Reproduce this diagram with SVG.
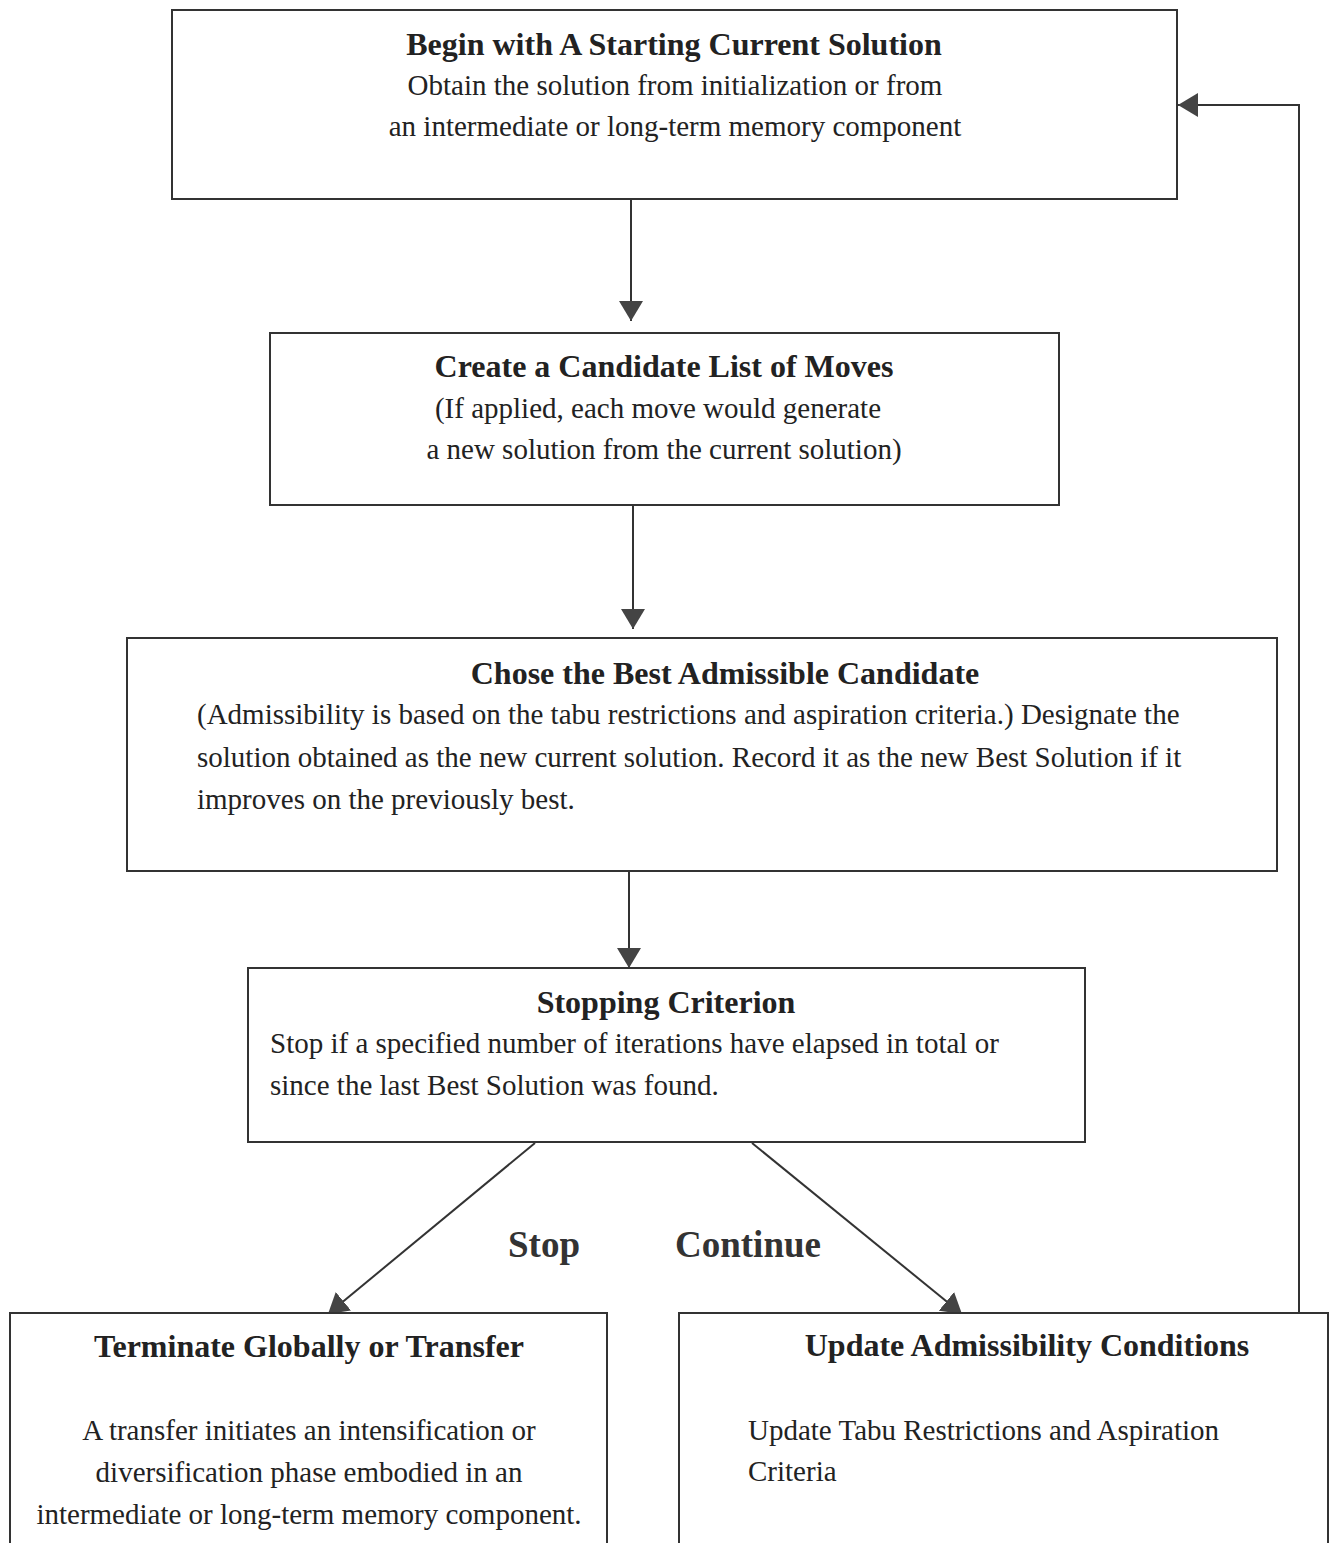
<svg xmlns="http://www.w3.org/2000/svg" width="1333" height="1543" viewBox="0 0 1333 1543">
<defs>
<marker id="ah" viewBox="0 0 20 24" refX="20" refY="12" markerWidth="20" markerHeight="24" markerUnits="userSpaceOnUse" orient="auto">
<path d="M0,0 L20,12 L0,24 Z" fill="#444"/>
</marker>
<style>
.box{fill:#fff;stroke:#333;stroke-width:2}
.ln{fill:none;stroke:#333;stroke-width:2}
.t{font-family:"Liberation Serif","Times New Roman",serif;font-weight:bold;font-size:32px;fill:#222}
.b{font-family:"Liberation Serif","Times New Roman",serif;font-size:29px;fill:#222}
.lab{font-family:"Liberation Serif","Times New Roman",serif;font-weight:bold;font-size:37px;fill:#333}
.c{text-anchor:middle}
</style>
</defs>
<rect width="1333" height="1543" fill="#fff"/>
<g id="connectors">
<line class="ln" x1="631" y1="199" x2="631" y2="321" marker-end="url(#ah)"/>
<line class="ln" x1="633" y1="505" x2="633" y2="629" marker-end="url(#ah)"/>
<line class="ln" x1="629" y1="871" x2="629" y2="968" marker-end="url(#ah)"/>
<line class="ln" x1="535" y1="1143" x2="328" y2="1314" marker-end="url(#ah)"/>
<line class="ln" x1="752" y1="1143" x2="962" y2="1314" marker-end="url(#ah)"/>
<polyline class="ln" points="1299,1313 1299,105 1178,105" marker-end="url(#ah)"/>
</g>
<g id="n1">
<rect class="box" x="172" y="10" width="1005" height="189"/>
<text class="t c" x="674" y="55">Begin with A Starting Current Solution</text>
<text class="b c" x="675" y="95">Obtain the solution from initialization or from</text>
<text class="b c" x="675" y="136">an intermediate or long-term memory component</text>
</g>
<g id="n2">
<rect class="box" x="270" y="333" width="789" height="172"/>
<text class="t c" x="664" y="377">Create a Candidate List of Moves</text>
<text class="b c" x="658" y="418">(If applied, each move would generate</text>
<text class="b c" x="664" y="459">a new solution from the current solution)</text>
</g>
<g id="n3">
<rect class="box" x="127" y="638" width="1150" height="233"/>
<text class="t c" x="725" y="684">Chose the Best Admissible Candidate</text>
<text class="b" x="197" y="724">(Admissibility is based on the tabu restrictions and aspiration criteria.) Designate the</text>
<text class="b" x="197" y="767">solution obtained as the new current solution. Record it as the new Best Solution if it</text>
<text class="b" x="197" y="809">improves on the previously best.</text>
</g>
<g id="n4">
<rect class="box" x="248" y="968" width="837" height="174"/>
<text class="t c" x="666" y="1013">Stopping Criterion</text>
<text class="b" x="270" y="1053">Stop if a specified number of iterations have elapsed in total or</text>
<text class="b" x="270" y="1095">since the last Best Solution was found.</text>
</g>
<g id="lbl">
<text class="lab" x="508" y="1257">Stop</text>
<text class="lab" x="675" y="1257">Continue</text>
</g>
<g id="n5">
<rect class="box" x="10" y="1313" width="597" height="240"/>
<text class="t c" x="309" y="1357">Terminate Globally or Transfer</text>
<text class="b c" x="309" y="1440">A transfer initiates an intensification or</text>
<text class="b c" x="309" y="1482">diversification phase embodied in an</text>
<text class="b c" x="309" y="1524">intermediate or long-term memory component.</text>
</g>
<g id="n6">
<rect class="box" x="679" y="1313" width="649" height="240"/>
<text class="t c" x="1027" y="1356">Update Admissibility Conditions</text>
<text class="b" x="748" y="1440">Update Tabu Restrictions and Aspiration</text>
<text class="b" x="748" y="1481">Criteria</text>
</g>
</svg>
